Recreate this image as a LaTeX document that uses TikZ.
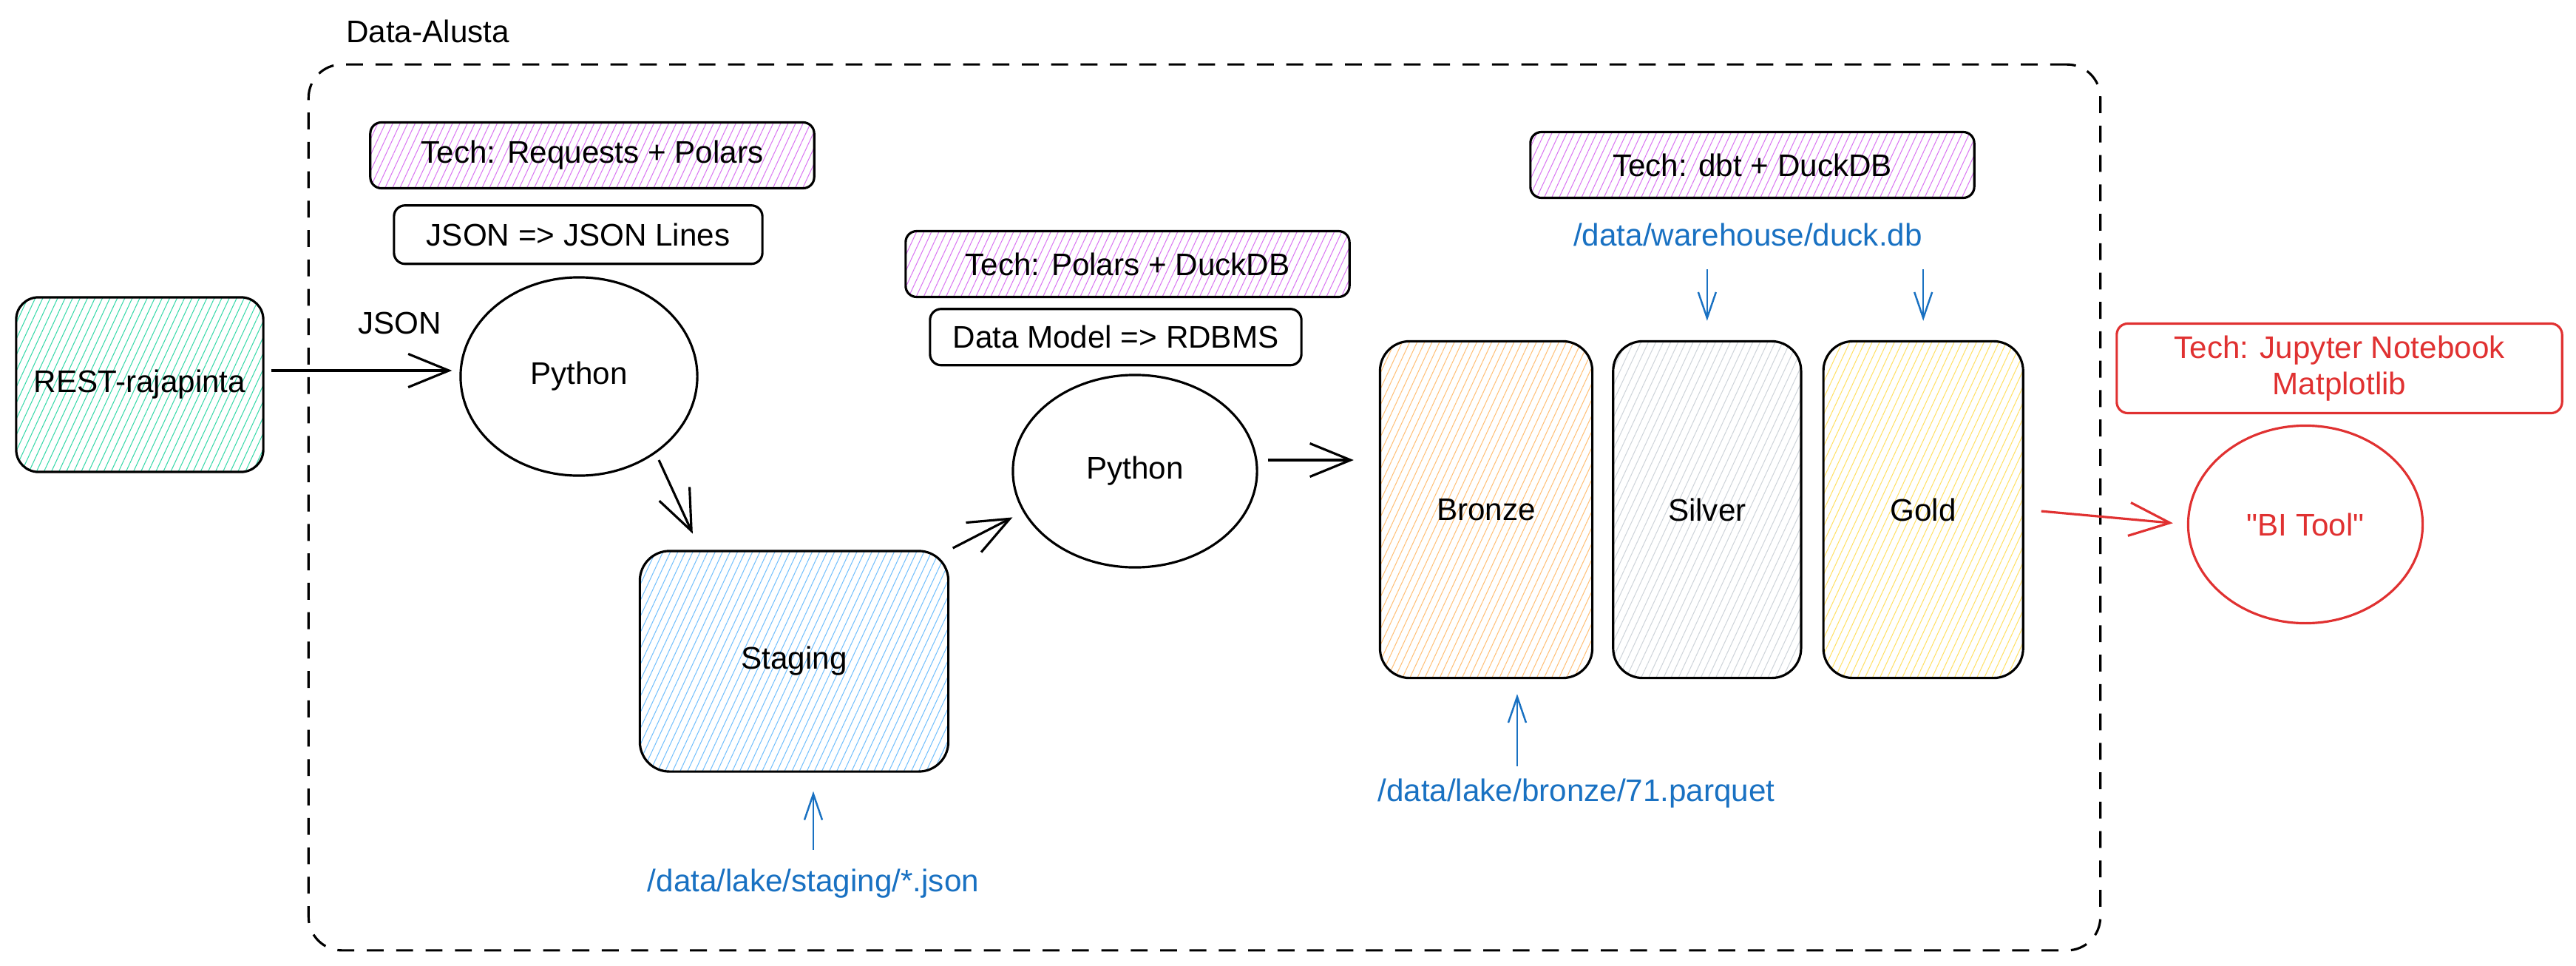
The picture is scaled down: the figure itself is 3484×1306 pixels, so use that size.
\documentclass[tikz,border=0pt]{standalone}
\usepackage{fontspec}
\setmainfont{Liberation Sans}
\usetikzlibrary{positioning,shapes.geometric,arrows.meta,patterns.meta}
\usepackage{xcolor}
\definecolor{restgreen}{HTML}{38D9A9}
\definecolor{techpurple}{HTML}{DA77F2}
\definecolor{stageblue}{HTML}{74C0FC}
\definecolor{bronzecol}{HTML}{FFC078}
\definecolor{silvercol}{HTML}{CED4DA}
\definecolor{goldcol}{HTML}{FFE066}
\definecolor{dirblue}{HTML}{1971C2}
\definecolor{bired}{HTML}{E03131}

\begin{document}
\begin{tikzpicture}[x=0.01cm, y=-0.01cm, font=\fontsize{12}{14}\selectfont, line width=0.9pt,
        >={Straight Barb[length=0.55cm,width=0.45cm]},
        box/.style={draw, rectangle, rounded corners=0.15cm, inner sep=0pt, align=center},
        hatch/.style={pattern={Lines[angle=65,distance=2.6pt,line width=0.3pt]}, pattern color=#1},
        tech/.style={box, hatch=techpurple, minimum width=6cm, minimum height=0.89cm},
        layer/.style={box, rounded corners=0.4cm, minimum height=4.55cm},
        proc/.style={draw, ellipse, inner sep=0pt},
        dir/.style={text=dirblue, inner sep=0pt},
        flow/.style={->, shorten <=0.1cm, shorten >=0.1cm},
        dirflow/.style={-{Straight Barb[length=0.35cm,width=0.24cm]}, draw=dirblue, line width=0.7pt}]
        \useasboundingbox (0,0) rectangle (3484,1306);

        % Nodes
        \node [draw, rounded corners=0.45cm, dash pattern=on 6.5pt off 4.8pt, minimum width=24.22cm, minimum height=11.97cm] (platform) at (1629,686) {};
        \node [anchor=west] (title) at (455,42) {Data-Alusta};

        \node [box, rounded corners=0.3cm, hatch=restgreen, minimum width=3.34cm, minimum height=2.36cm] (R) at (189,520) {REST-rajapinta};

        \node [tech] (T1) at (801,210) {Tech: Requests + Polars};
        \node [box, below=0.2cm of T1, xshift=-0.19cm, minimum width=4.98cm, minimum height=0.79cm] (J) {JSON => JSON Lines};
        \node [proc, minimum width=3.2cm, minimum height=2.68cm] (P1) at (783,509) {Python};
        \node (json) at (541,437) {JSON};

        \node [box, rounded corners=0.4cm, hatch=stageblue, minimum width=4.17cm, minimum height=2.98cm] (S) at (1074,894) {Staging};
        \node [dir] (Sdir) at (1100,1195) {/data/lake/staging/*.json};

        \node [tech] (T2) at (1525,357) {Tech: Polars + DuckDB};
        \node [box, below=0.13cm of T2, xshift=-0.16cm, minimum width=5.02cm, minimum height=0.76cm] (M) {Data Model => RDBMS};
        \node [proc, minimum width=3.3cm, minimum height=2.6cm] (P2) at (1535,637) {Python};

        \node [layer, hatch=bronzecol, minimum width=2.87cm] (B) at (2010,689) {Bronze};
        \node [layer, hatch=silvercol, minimum width=2.54cm, right=0.25cm of B] (Si) {Silver};
        \node [layer, hatch=goldcol, minimum width=2.7cm, right=0.27cm of Si] (G) {Gold};
        \node [dir] (Bdir) at (2132,1073) {/data/lake/bronze/71.parquet};

        \node [tech] (T3) at (2370,223) {Tech: dbt + DuckDB};
        \node [dir] (W) at (2364,317) {/data/warehouse/duck.db};

        \node [box, draw=bired, text=bired, minimum width=6.02cm, minimum height=1.21cm] (T4) at (3164,498) {Tech: Jupyter Notebook\\Matplotlib};
        \node [proc, draw=bired, text=bired, minimum width=3.17cm, minimum height=2.67cm] (BI) at (3118,709) {\textquotedbl BI Tool\textquotedbl};

        % Arrows
        \draw[flow] ([yshift=0.19cm]R.east) -- ([yshift=0.19cm]R.east -| P1.west);
        \draw[flow, shorten >=0.24cm] (P1.315) -- ([xshift=-1.27cm]S.north);
        \draw[flow, shorten <=0.05cm, shorten >=0.16cm] (S.north east) -- (P2.200);
        \draw[flow, shorten <=0.13cm, shorten >=0.34cm] ([yshift=0.15cm]P2.east) -- ([yshift=0.15cm]P2.east -| B.west);
        \draw[flow, draw=bired, shorten <=0.23cm, shorten >=0.19cm] (G.east) -- (BI.west);

        \draw[dirflow, shorten <=0.25cm, shorten >=0.25cm] (Sdir.north) -- (Sdir.north |- S.south);
        \draw[dirflow, shorten <=0.16cm, shorten >=0.2cm] ([xshift=-0.8cm]Bdir.north) -- ([xshift=-0.8cm]Bdir.north |- B.south);
        \draw[dirflow, shorten <=0.3cm, shorten >=0.26cm] (W.south -| Si.north) -- (Si.north);
        \draw[dirflow, shorten <=0.3cm, shorten >=0.26cm] (W.south -| G.north) -- (G.north);
    \end{tikzpicture}
\end{document}
